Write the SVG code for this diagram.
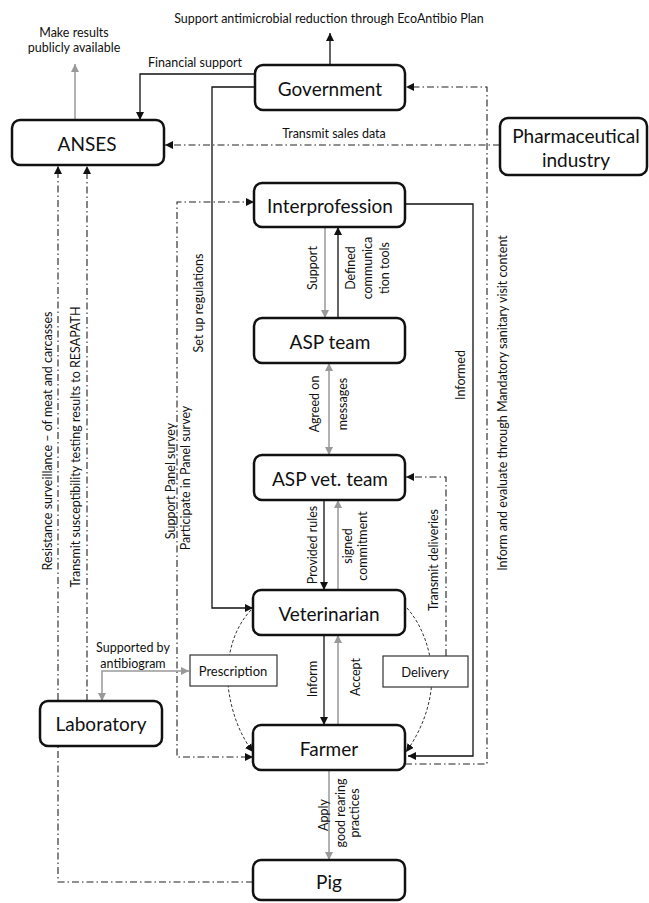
<svg xmlns="http://www.w3.org/2000/svg" width="649" height="903" viewBox="0 0 649 903">
<style>
  .node rect.main { fill: #fff; stroke: #111; stroke-width: 2.5; }
  .node rect.small { fill: #fff; stroke: #333; stroke-width: 1.2; }
  .nt { font-family: Lato, "Liberation Sans", sans-serif; font-size: 19px; fill: #111; text-anchor: middle; dominant-baseline: central; }
  .st { font-family: Lato, "Liberation Sans", sans-serif; font-size: 13px; fill: #111; text-anchor: middle; dominant-baseline: central; }
  .lb { font-family: Lato, "Liberation Sans", sans-serif; font-size: 12.5px; fill: #111; text-anchor: middle; dominant-baseline: central; }
  .blk { fill: none; stroke: #111; stroke-width: 1.3; }
  .gry { fill: none; stroke: #999; stroke-width: 1.5; }
  .dd { fill: none; stroke: #222; stroke-width: 1.1; stroke-dasharray: 7 3 1.5 3; }
  .dash { fill: none; stroke: #333; stroke-width: 1; stroke-dasharray: 3 2; }
</style>
<defs>
  <marker id="ab" viewBox="0 0 10 10" refX="10" refY="5" markerWidth="8" markerHeight="8" markerUnits="userSpaceOnUse" orient="auto-start-reverse">
    <path d="M0,0 L10,5 L0,10 z" fill="#111"/>
  </marker>
  <marker id="ag" viewBox="0 0 10 10" refX="10" refY="5" markerWidth="8" markerHeight="8" markerUnits="userSpaceOnUse" orient="auto-start-reverse">
    <path d="M0,0 L10,5 L0,10 z" fill="#999"/>
  </marker>
</defs>
<rect width="649" height="903" fill="#fff"/>

<g id="connectors">
  <path class="blk" d="M330,65 V33" marker-end="url(#ab)"/>
  <path class="blk" d="M255,74 H140 V120" marker-end="url(#ab)"/>
  <path class="blk" d="M255,87 H212 V608 H253" marker-end="url(#ab)"/>
  <path class="dd" d="M405,764 H487 V87 H406" marker-end="url(#ab)"/>
  <path class="dd" d="M500,145 H165" marker-end="url(#ab)"/>
  <path class="gry" d="M75,120 V64" marker-end="url(#ag)"/>
  <path class="dd" d="M253,882 H58 V166" marker-end="url(#ab)"/>
  <path class="dd" d="M87,701 V166" marker-end="url(#ab)"/>
  <path class="dd" d="M254,202 H177 V757 H253" marker-start="url(#ab)" marker-end="url(#ab)"/>
  <path class="gry" d="M325,227 V318" marker-end="url(#ag)"/>
  <path class="blk" d="M338,318 V227" marker-end="url(#ab)"/>
  <path class="gry" d="M329,363 V455" marker-start="url(#ag)" marker-end="url(#ag)"/>
  <path class="blk" d="M324,500 V590" marker-end="url(#ab)"/>
  <path class="gry" d="M338,590 V500" marker-end="url(#ag)"/>
  <path class="blk" d="M324,635 V725" marker-end="url(#ab)"/>
  <path class="gry" d="M338,725 V635" marker-end="url(#ag)"/>
  <path class="gry" d="M329,770 V860" marker-end="url(#ag)"/>
  <path class="blk" d="M405,204 H473 V756 H408" marker-end="url(#ab)"/>
  <path class="dd" d="M446,656 V477 H406" marker-end="url(#ab)"/>
  <path class="gry" d="M189,671 H102 V701" marker-start="url(#ag)" marker-end="url(#ag)"/>
  <path class="dash" d="M251,610 C234,628 226,655 228,685 C231,712 240,735 253,752" marker-end="url(#ab)"/>
  <path class="dash" d="M407,608 C422,625 431,650 432,675 C432,703 422,730 406,752" marker-end="url(#ab)"/>
</g>

<g id="labels">
  <text class="lb" x="329" y="18">Support  antimicrobial reduction  through  EcoAntibio Plan</text>
  <text class="lb" x="74" y="32">Make results</text>
  <text class="lb" x="74" y="47">publicly available</text>
  <text class="lb" x="195" y="62">Financial support</text>
  <text class="lb" x="334" y="133">Transmit sales data</text>
  <text class="lb" x="133" y="647">Supported by</text>
  <text class="lb" x="133" y="663">antibiogram</text>
  <text class="lb" transform="rotate(-90 47 441)" x="47" y="441">Resistance surveillance – of meat and carcasses</text>
  <text class="lb" transform="rotate(-90 75 447)" x="75" y="447">Transmit susceptibility testing results to RESAPATH</text>
  <text class="lb" transform="rotate(-90 198 303)" x="198" y="303">Set up regulations</text>
  <text class="lb" transform="rotate(-90 170 481)" x="170" y="481">Support Panel survey</text>
  <text class="lb" transform="rotate(-90 185 478)" x="185" y="478">Participate in Panel survey</text>
  <text class="lb" transform="rotate(-90 312 268)" x="312" y="268">Support</text>
  <text class="lb" transform="rotate(-90 350 268)" x="350" y="268">Defined</text>
  <text class="lb" transform="rotate(-90 367 268)" x="367" y="268">communica</text>
  <text class="lb" transform="rotate(-90 384 268)" x="384" y="268">tion tools</text>
  <text class="lb" transform="rotate(-90 314 404)" x="314" y="404">Agreed on</text>
  <text class="lb" transform="rotate(-90 342 404)" x="342" y="404">messages</text>
  <text class="lb" transform="rotate(-90 460 375)" x="460" y="375">Informed</text>
  <text class="lb" transform="rotate(-90 502 403)" x="502" y="403">Inform and evaluate through Mandatory  sanitary visit content</text>
  <text class="lb" transform="rotate(-90 433 560)" x="433" y="560">Transmit deliveries</text>
  <text class="lb" transform="rotate(-90 312 545)" x="312" y="545">Provided rules</text>
  <text class="lb" transform="rotate(-90 347 546)" x="347" y="546">signed</text>
  <text class="lb" transform="rotate(-90 362 546)" x="362" y="546">commitment</text>
  <text class="lb" transform="rotate(-90 312 679)" x="312" y="679">Inform</text>
  <text class="lb" transform="rotate(-90 355 677)" x="355" y="677">Accept</text>
  <text class="lb" transform="rotate(-90 323 815)" x="323" y="815">Apply</text>
  <text class="lb" transform="rotate(-90 340 813)" x="340" y="813">good rearing</text>
  <text class="lb" transform="rotate(-90 354 813)" x="354" y="813">practices</text>
</g>

<g id="government" class="node"><rect class="main" x="255" y="65" width="150" height="45" rx="8"/><text class="nt" x="330" y="88">Government</text></g>
<g id="anses" class="node"><rect class="main" x="12" y="120" width="152" height="45" rx="8"/><text class="nt" x="87" y="143">ANSES</text></g>
<g id="pharma" class="node"><rect class="main" x="500" y="118" width="147" height="57" rx="8"/><text class="nt" x="576" y="135">Pharmaceutical</text><text class="nt" x="576" y="159">industry</text></g>
<g id="interprofession" class="node"><rect class="main" x="254" y="183" width="151" height="44" rx="8"/><text class="nt" x="330" y="205">Interprofession</text></g>
<g id="asp-team" class="node"><rect class="main" x="254" y="318" width="151" height="45" rx="8"/><text class="nt" x="330" y="341">ASP team</text></g>
<g id="asp-vet-team" class="node"><rect class="main" x="254" y="455" width="151" height="45" rx="8"/><text class="nt" x="330" y="478">ASP vet. team</text></g>
<g id="veterinarian" class="node"><rect class="main" x="253" y="590" width="152" height="45" rx="8"/><text class="nt" x="329" y="613">Veterinarian</text></g>
<g id="farmer" class="node"><rect class="main" x="253" y="725" width="152" height="45" rx="8"/><text class="nt" x="329" y="748">Farmer</text></g>
<g id="pig" class="node"><rect class="main" x="253" y="860" width="152" height="40" rx="8"/><text class="nt" x="329" y="881">Pig</text></g>
<g id="laboratory" class="node"><rect class="main" x="40" y="701" width="122" height="45" rx="8"/><text class="nt" x="101" y="723">Laboratory</text></g>
<g id="prescription" class="node"><rect class="small" x="190" y="655" width="87" height="31"/><text class="st" x="233" y="671">Prescription</text></g>
<g id="delivery" class="node"><rect class="small" x="383" y="656" width="85" height="31"/><text class="st" x="425" y="672">Delivery</text></g>
</svg>
